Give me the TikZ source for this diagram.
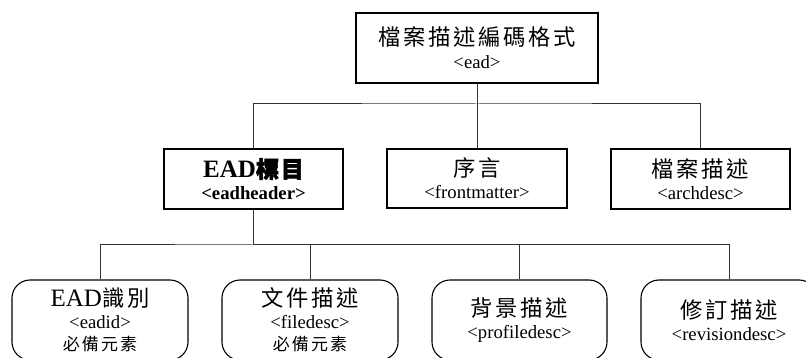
\documentclass[tikz,border=0pt]{standalone}
\usepackage{fontspec}
\setmainfont{Liberation Serif}
\newfontfamily\cjk{Noto Sans CJK TC}[LetterSpace=12]
\newfontfamily\cjkbold{Noto Sans CJK TC}[LetterSpace=8,FakeBold=2.5]
\newcommand\bigline{\fontsize{25}{23}\selectfont}
\newcommand\smallline{\fontsize{18.7}{22}\selectfont}
\newcommand\hanbig{\fontsize{22.3}{23}\cjk}
\newcommand\hansmall{\fontsize{17}{22}\cjk}
\begin{document}
\begin{tikzpicture}[x=1pt,y=-1pt,
  conn/.style={draw=black!80, line width=1pt},
  sqbox/.style={draw=black, line width=1.1pt, inner sep=0pt, align=center,
    font=\smallline},
  rbox/.style={sqbox, rounded corners=18pt}]
\useasboundingbox (0,0) rectangle (806,358);

% root element
\node[sqbox, minimum width=242pt, minimum height=70pt] (ead) at (477,48)
  {{\hanbig\selectfont 檔案描述編碼格式\hspace{-2.7pt}}\\[1pt]<ead>};

% second level
\node[sqbox, minimum width=179pt, minimum height=60pt] (hdr) at (253.5,179)
  {{\bigline\bfseries EAD{\fontsize{23}{23}\cjkbold\selectfont 標目}}\\\textbf{<eadheader>}};
\node[sqbox, minimum width=180pt, minimum height=59pt] (front) at (477,178.5)
  {{\hanbig\selectfont 序言\hspace{-2.7pt}}\\<frontmatter>};
\node[sqbox, minimum width=179pt, minimum height=60pt] (arch) at (700.5,179)
  {{\hanbig\selectfont 檔案描述\hspace{-2.7pt}}\\<archdesc>};

% children of eadheader
\node[rbox, minimum width=176pt, minimum height=80pt] (eadid) at (100,320)
  {{\bigline EAD{\hanbig\selectfont 識別\hspace{-2.7pt}}}\\<eadid>\\{\hansmall\selectfont 必備元素\hspace{-2pt}}};
\node[rbox, minimum width=176pt, minimum height=80pt] (file) at (310,320)
  {{\hanbig\selectfont 文件描述\hspace{-2.7pt}}\\<filedesc>\\{\hansmall\selectfont 必備元素\hspace{-2pt}}};
\node[rbox, minimum width=175pt, minimum height=80pt] (prof) at (519.5,320)
  {{\hanbig\selectfont 背景描述\hspace{-2.7pt}}\\<profiledesc>};
\node[rbox, minimum width=176pt, minimum height=80pt] (rev) at (729,320)
  {{\hanbig\selectfont 修訂描述\hspace{-2.7pt}}\\<revisiondesc>};

% bus lines
\coordinate (bus1) at (477,104);
\coordinate (bus2) at (253.5,245);

\draw[conn] (ead.south) -- (front.north);
\draw[conn] (hdr.north) |- (bus1) -| (arch.north);
\draw[conn] (hdr.south) -- (bus2);
\draw[conn] (eadid.north) |- (bus2) -| (rev.north);
\draw[conn] (file.north) |- (bus2);
\draw[conn] (prof.north) |- (bus2);
\end{tikzpicture}
\end{document}
